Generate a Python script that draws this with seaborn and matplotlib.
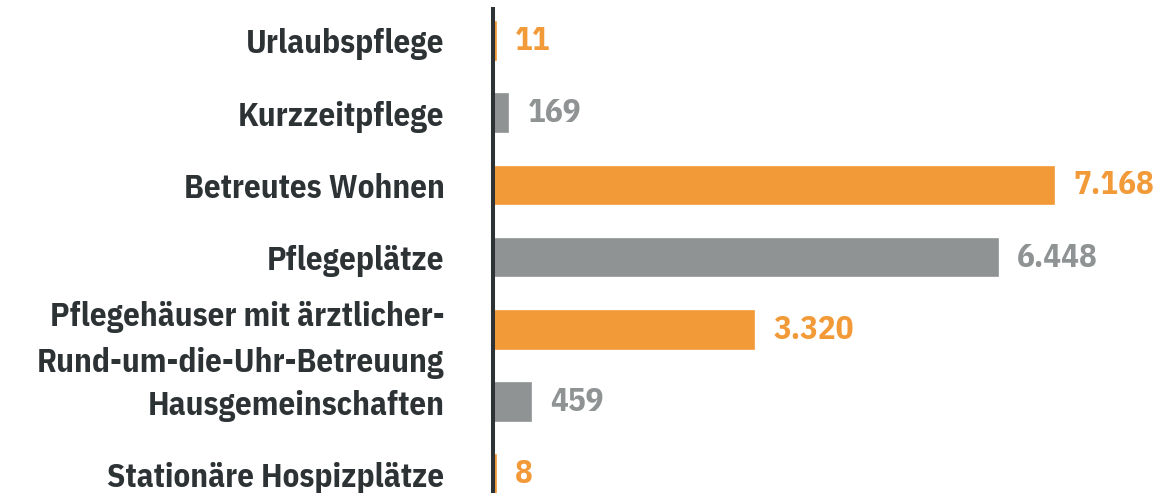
import matplotlib
matplotlib.use("Agg")
import matplotlib.pyplot as plt
import seaborn as sns
import pandas as pd
from matplotlib import font_manager
from matplotlib.font_manager import FontProperties
from matplotlib.textpath import TextPath

categories = [
    "Urlaubspflege",
    "Kurzzeitpflege",
    "Betreutes Wohnen",
    "Pflegeplätze",
    "Pflegehäuser mit ärztlicher-\nRund-um-die-Uhr-Betreuung",
    "Hausgemeinschaften",
    "Stationäre Hospizplätze",
]
values = [11, 169, 7168, 6448, 3320, 459, 8]
value_labels = ["11", "169", "7.168", "6.448", "3.320", "459", "8"]

ORANGE = "#F29A38"
GRAY = "#8F9394"
DARK = "#2D3234"
bar_colors = [ORANGE, GRAY, ORANGE, GRAY, ORANGE, GRAY, ORANGE]

sns.set_theme(style="white")

# choose a condensed grotesque whose proportions match the reference
names = {f.name for f in font_manager.fontManager.ttflist}
cands = ["Archivo Narrow", "Roboto Condensed", "Sofia Sans Semi Condensed",
         "Barlow Semi Condensed", "IBM Plex Sans Condensed", "Fira Sans Condensed",
         "Encode Sans Semi Condensed", "Liberation Sans Narrow", "PT Sans Narrow"]
CAP_PX, WIDTH_PX = 23.0, 203.0
best = None
for fam in cands:
    if fam not in names:
        continue
    try:
        fp = FontProperties(family=fam, weight="bold")
        cap = TextPath((0, 0), "H", size=100, prop=fp).get_extents().height
        wid = TextPath((0, 0), "Urlaubspflege", size=100, prop=fp).get_extents().width
    except Exception:
        continue
    size_px = CAP_PX * 100 / cap
    w = wid * size_px / 100
    score = abs(w - WIDTH_PX)
    if best is None or score < best[0]:
        best = (score, fam, size_px)
if best is None:
    best = (0, "DejaVu Sans", 28.0)
_, font, size_px = best
FS = size_px * 72 / 100
plt.rcParams["font.family"] = [font, "DejaVu Sans"]

df = pd.DataFrame({"cat": categories, "val": values})

W, H = 1175, 493
fig = plt.figure(figsize=(W / 100, H / 100), dpi=100)
ax = fig.add_axes([495 / W, 0, 1 - 495 / W, 1 - 9 / H])

sns.barplot(data=df, x="val", y="cat", hue="cat", palette=bar_colors,
            orient="h", width=0.52, legend=False, ax=ax, saturation=1,
            linewidth=1.2)
for p, c in zip(ax.patches, bar_colors):
    p.set_edgecolor(c)

ax.set_xlim(0, 8719)
ax.set_ylim(6.26, -0.443)
ax.set_xlabel("")
ax.set_ylabel("")
ax.set_xticks([])
for s in ["top", "right", "bottom"]:
    ax.spines[s].set_visible(False)
ax.spines["left"].set_color(DARK)
ax.spines["left"].set_linewidth(2.9)
ax.spines["left"].set_position(("outward", 1.4))
ax.tick_params(axis="y", length=0, pad=35)
for t in ax.get_yticklabels():
    t.set_fontsize(FS)
    t.set_fontweight("bold")
    t.set_color(DARK)
    t.set_linespacing(1.55)

for i, (v, lab, c) in enumerate(zip(values, value_labels, bar_colors)):
    ax.annotate(lab, xy=(v, i), xytext=(14, 0), textcoords="offset points",
                va="center", ha="left", fontsize=FS, fontweight="bold", color=c)

fig.savefig("out.png", dpi=100)
